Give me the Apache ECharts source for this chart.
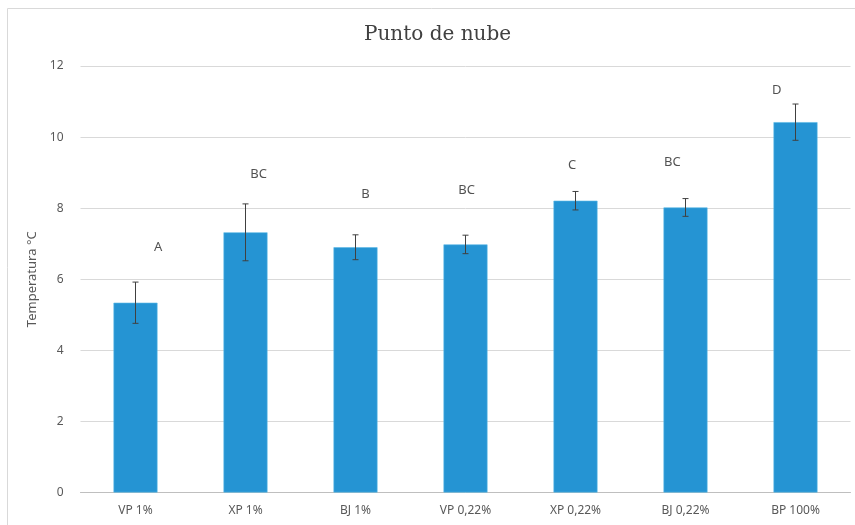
<!DOCTYPE html>
<html><head><meta charset="utf-8">
<script src="https://cdn.jsdelivr.net/npm/echarts@6/dist/echarts.min.js"></script>
<style>html,body{margin:0;padding:0;background:#fff}#c{width:855px;height:525px}</style>
</head><body><div id="c"></div>
<script>
var categories = ['VP 1%', 'XP 1%', 'BJ 1%', 'VP 0,22%', 'XP 0,22%', 'BJ 0,22%', 'BP 100%'];
var values = [5.34, 7.32, 6.90, 6.98, 8.21, 8.02, 10.42];
var errors = [0.58, 0.80, 0.35, 0.26, 0.26, 0.25, 0.51];
var letters = ['A', 'BC', 'B', 'BC', 'C', 'BC', 'D'];
var letterX = [0.205, 1.12, 2.09, 3.01, 3.97, 4.88, 5.83];
var letterY = [6.91, 8.96, 8.38, 8.49, 9.21, 9.30, 11.33];
var yTicks = [0, 2, 4, 6, 8, 10, 12];

var chart = echarts.init(document.getElementById('c'));
var errData = values.map(function (v, i) { return [i, v - errors[i], v + errors[i]]; });
var letterData = letters.map(function (l, i) { return [letterX[i], letterY[i], l]; });

chart.setOption({
  animation: false,
  graphic: [{
    type: 'rect', shape: { x: 7.5, y: 8.5, width: 860, height: 530 },
    style: { fill: 'none', stroke: '#d9d9d9', lineWidth: 1 }, silent: true, z: -1
  }],
  title: {
    text: 'Punto de nube', left: 359, top: 20,
    textStyle: { fontFamily: 'DejaVu Serif', fontSize: 20, fontWeight: 'normal', color: '#404040' }
  },
  grid: { left: 80.5, right: 4.5, top: 66, bottom: 32.5 },
  xAxis: [{
    type: 'category', data: categories,
    axisLine: { lineStyle: { color: '#bfbfbf' } },
    axisTick: { show: false },
    axisLabel: { color: '#595959', fontSize: 12, fontFamily: 'Noto Sans', margin: 12 }
  }, {
    type: 'value', min: -0.5, max: 6.5, show: false
  }],
  yAxis: {
    type: 'value', min: 0, max: 12, interval: 2,
    name: 'Temperatura °C', nameLocation: 'middle', nameGap: 36, nameRotate: 90,
    nameTextStyle: { color: '#595959', fontSize: 13, fontFamily: 'Noto Sans' },
    axisLine: { show: false }, axisTick: { show: false },
    axisLabel: {
      color: '#595959', fontSize: 12, fontFamily: 'Noto Sans', margin: 17,
      formatter: function (v) { return yTicks.indexOf(v) >= 0 ? String(v) : ''; }
    },
    splitLine: { lineStyle: { color: '#d9d9d9' } }
  },
  series: [{
    type: 'bar', data: values, barWidth: '40%',
    itemStyle: { color: '#2594d3', borderColor: '#5ab8e6', borderWidth: 0.6 }
  }, {
    type: 'custom', xAxisIndex: 0, data: errData, z: 5,
    renderItem: function (params, api) {
      var x = api.value(0);
      var lo = api.coord([x, api.value(1)]);
      var hi = api.coord([x, api.value(2)]);
      var cap = 3;
      var st = { stroke: '#404040', lineWidth: 1 };
      return {
        type: 'group', children: [
          { type: 'line', shape: { x1: lo[0], y1: lo[1], x2: hi[0], y2: hi[1] }, style: st },
          { type: 'line', shape: { x1: lo[0] - cap, y1: lo[1], x2: lo[0] + cap, y2: lo[1] }, style: st },
          { type: 'line', shape: { x1: hi[0] - cap, y1: hi[1], x2: hi[0] + cap, y2: hi[1] }, style: st }
        ]
      };
    }
  }, {
    type: 'scatter', xAxisIndex: 1, data: letterData, symbolSize: 0,
    label: {
      show: true, position: 'inside', color: '#262626', fontSize: 13, fontFamily: 'Noto Sans',
      formatter: function (p) { return p.value[2]; }
    }
  }]
});
</script></body></html>
